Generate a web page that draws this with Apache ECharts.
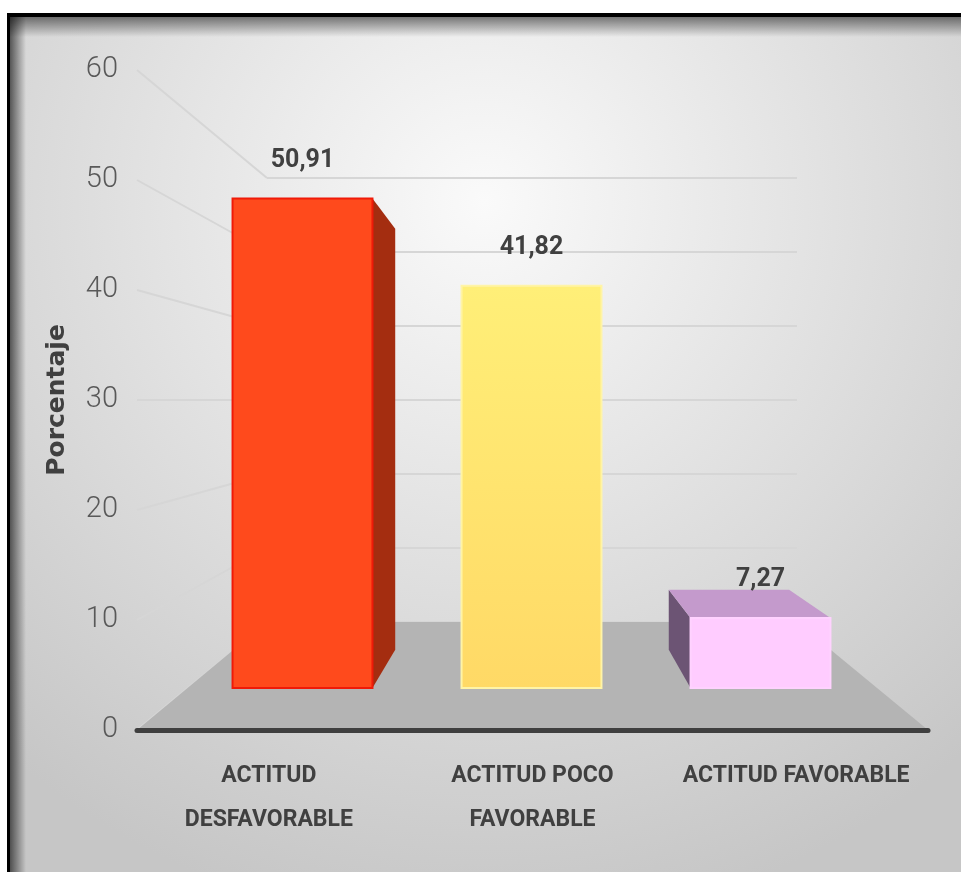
<!DOCTYPE html>
<html>
<head>
<meta charset="utf-8">
<script src="https://cdn.jsdelivr.net/npm/echarts@6/dist/echarts.min.js"></script>
<style>
  html, body { margin: 0; padding: 0; background: #fff; }
  #chart { width: 961px; height: 872px; }
</style>
</head>
<body>
<div id="chart"></div>
<script>
// datos del grafico
var categorias = ['ACTITUD\nDESFAVORABLE', 'ACTITUD POCO\nFAVORABLE', 'ACTITUD FAVORABLE'];
var porcentajes = [50.91, 41.82, 7.27];
var ticksY = [0, 10, 20, 30, 40, 50, 60];

// colores de cada barra: cara frontal, lateral, superior, borde
var coloresFrente = [
    '#ff4a1c',
    { type: 'linear', x: 0, y: 0, x2: 0, y2: 1, colorStops: [{ offset: 0, color: '#ffef78' }, { offset: 1, color: '#ffd966' }] },
    '#ffccff'
];
var coloresLado = ['#a42d10', '#e0b94a', '#6c5474'];
var coloresArriba = ['#ff6a40', '#fff3a0', '#c49acc'];
var coloresBorde = ['#f01a08', '#fff4a6', '#ffd2ff'];

var LETRA = "Roboto, 'Liberation Sans', sans-serif";

// perspectiva (punto de fuga) y profundidad de las barras
var VP = [535, 415];
var PROF = 0.14;

var FRENTE = { left: 137, right: 33, top: 70, bottom: 142 };
var FONDO = { left: 267, right: 164, top: 178, bottom: 250 };
var BARRAS = { left: 188, right: 86, top: 111, bottom: 184 };

var myChart = echarts.init(document.getElementById('chart'));

function atras(p) {
    return [p[0] + (VP[0] - p[0]) * PROF, p[1] + (VP[1] - p[1]) * PROF];
}

function barra3d(params, api) {
    var i = api.value(0);
    var v = api.value(1);
    var arriba = api.coord([i, v]);
    var base = api.coord([i, 0]);
    var w = api.size([1, 0])[0] * 0.611;
    var x0 = arriba[0] - w / 2, x1 = arriba[0] + w / 2;
    var y0 = arriba[1], y1 = base[1];
    var hijos = [];

    if (x1 < VP[0]) {
        // lado derecho visible
        var a = atras([x1, y0]), b = atras([x1, y1]);
        hijos.push({ type: 'polygon', shape: { points: [[x1, y0], a, b, [x1, y1]] },
            style: { fill: coloresLado[i] } });
    }
    if (x0 > VP[0]) {
        // lado izquierdo visible
        var c = atras([x0, y0]), d = atras([x0, y1]);
        hijos.push({ type: 'polygon', shape: { points: [[x0, y0], c, d, [x0, y1]] },
            style: { fill: coloresLado[i] } });
    }
    if (y0 > VP[1]) {
        // cara superior visible
        hijos.push({ type: 'polygon', shape: { points: [[x0, y0], atras([x0, y0]), atras([x1, y0]), [x1, y0]] },
            style: { fill: coloresArriba[i] } });
    }
    hijos.push({ type: 'rect', shape: { x: x0, y: y0, width: w, height: y1 - y0 },
        style: { fill: coloresFrente[i], stroke: coloresBorde[i], lineWidth: 2 } });
    hijos.push({ type: 'text', style: {
        text: v.toFixed(2).replace('.', ','),
        x: arriba[0], y: y0 - 38, align: 'center', verticalAlign: 'middle',
        font: 'bold 25px ' + LETRA, fill: '#404040' } });
    return { type: 'group', children: hijos };
}

var option = {
    animation: false,
    grid: [
        { left: FRENTE.left, right: FRENTE.right, top: FRENTE.top, bottom: FRENTE.bottom },
        { left: FONDO.left, right: FONDO.right, top: FONDO.top, bottom: FONDO.bottom },
        { left: BARRAS.left, right: BARRAS.right, top: BARRAS.top, bottom: BARRAS.bottom }
    ],
    xAxis: [
        {
            gridIndex: 0, type: 'category', data: categorias, z: 4,
            axisLine: { lineStyle: { color: '#3f3f3f', width: 5 } },
            axisTick: { show: false },
            axisLabel: { margin: 24, fontFamily: LETRA, fontWeight: 'bold', fontSize: 23,
                lineHeight: 44, color: '#404040', interval: 0 }
        },
        { gridIndex: 1, type: 'value', show: false },
        { gridIndex: 2, type: 'category', data: categorias, show: false }
    ],
    yAxis: [
        {
            gridIndex: 0, type: 'value', min: 0, max: 60, interval: 10,
            axisLine: { show: false }, axisTick: { show: false }, splitLine: { show: false },
            axisLabel: { margin: 19, fontFamily: LETRA, fontWeight: 300, fontSize: 29, color: '#595959' },
            name: 'Porcentaje', nameLocation: 'middle', nameRotate: 90, nameGap: 67,
            nameTextStyle: { fontFamily: 'DejaVu Sans', fontWeight: 'bold', fontSize: 25, color: '#404040' }
        },
        {
            gridIndex: 1, type: 'value', min: 0, max: 60, interval: 10,
            axisLine: { show: false }, axisTick: { show: false }, axisLabel: { show: false },
            splitLine: { lineStyle: { color: '#d6d6d6', width: 2 } }
        },
        { gridIndex: 2, type: 'value', min: 0, max: 60, show: false }
    ],
    graphic: [
        { type: 'rect', id: 'fondo', z: -10, silent: true,
            shape: { x: 7, y: 13, width: 954, height: 859 },
            style: { fill: { type: 'radial', x: 0.5, y: 0.22, r: 0.85,
                colorStops: [{ offset: 0, color: '#fafafa' }, { offset: 1, color: '#c6c6c6' }] } } },
        { type: 'rect', id: 'sombraArriba', z: 10, silent: true,
            shape: { x: 7, y: 17, width: 954, height: 20 },
            style: { fill: { type: 'linear', x: 0, y: 0, x2: 0, y2: 1,
                colorStops: [{ offset: 0, color: 'rgba(0,0,0,0.5)' }, { offset: 1, color: 'rgba(0,0,0,0)' }] } } },
        { type: 'rect', id: 'sombraIzq', z: 10, silent: true,
            shape: { x: 10, y: 13, width: 16, height: 859 },
            style: { fill: { type: 'linear', x: 0, y: 0, x2: 1, y2: 0,
                colorStops: [{ offset: 0, color: 'rgba(0,0,0,0.6)' }, { offset: 1, color: 'rgba(0,0,0,0)' }] } } },
        { type: 'rect', id: 'bordeArriba', z: 11, silent: true,
            shape: { x: 7, y: 13, width: 954, height: 4 }, style: { fill: '#000' } },
        { type: 'rect', id: 'bordeIzq', z: 11, silent: true,
            shape: { x: 7, y: 13, width: 3, height: 859 }, style: { fill: '#000' } }
    ],
    series: [
        {
            type: 'custom', name: 'Porcentaje', xAxisIndex: 2, yAxisIndex: 2, z: 3,
            renderItem: barra3d,
            encode: { x: 0, y: 1 },
            data: porcentajes.map(function (v, i) { return [i, v]; })
        }
    ]
};

myChart.setOption(option);

// piso y lineas de la pared izquierda, con las escalas de los ejes
var W = 961;
var extra = [];
ticksY.forEach(function (v) {
    var yf = myChart.convertToPixel({ yAxisIndex: 0 }, v);
    var yb = myChart.convertToPixel({ yAxisIndex: 1 }, v);
    extra.push({ type: 'line', id: 'pared' + v, z: 1, silent: true,
        shape: { x1: FRENTE.left, y1: yf, x2: FONDO.left, y2: yb },
        style: { stroke: '#d6d6d6', lineWidth: 2 } });
});
var yf0 = myChart.convertToPixel({ yAxisIndex: 0 }, 0);
var yb0 = myChart.convertToPixel({ yAxisIndex: 1 }, 0);
extra.push({ type: 'polygon', id: 'piso', z: 1.5, silent: true,
    shape: { points: [[FRENTE.left, yf0], [FONDO.left, yb0], [W - FONDO.right, yb0], [W - FRENTE.right, yf0]] },
    style: { fill: '#b4b4b4' } });
myChart.setOption({ graphic: extra });
</script>
</body>
</html>
